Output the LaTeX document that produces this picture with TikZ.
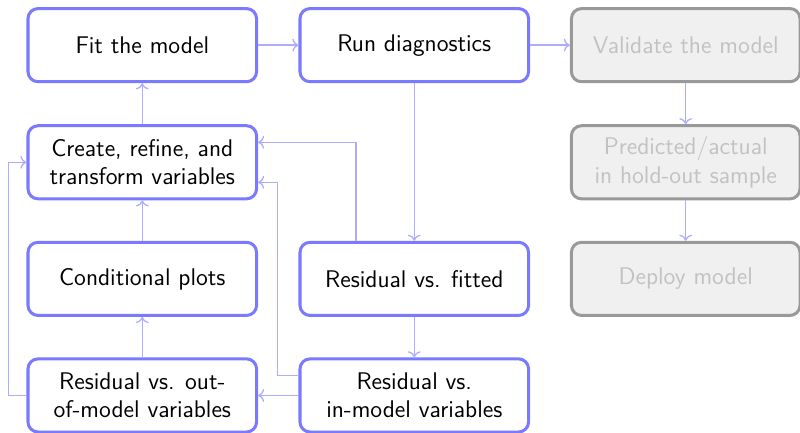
\documentclass[tikz,border=0pt]{standalone}
\usepackage{xcolor}
\usepackage{tikz}
\usetikzlibrary{arrows.meta,positioning}

\begin{document}
\begin{tikzpicture}[
  font=\sffamily\fontsize{12}{14}\selectfont,
  box/.style={draw, rounded corners=5pt, align=center, line width=1.5pt, minimum width=4cm, minimum height=1.28cm},
  act/.style={box, fill=white, draw=blue!52, text=black},
  later/.style={box, fill=black!6, draw=black!40, text=black!24},
  ar/.style={->, line width=0.65pt, draw=blue!32}
]
  \useasboundingbox (0,0) rectangle (14,-7.56);
  \node[act] (fit) at (2.49,-0.79) {Fit the model};
  \node[act] (run) at (7.25,-0.79) {Run diagnostics};
  \node[later] (valid) at (12.0,-0.79) {Validate the model};
  \node[act] (create) at (2.49,-2.84) {Create, refine, and\\ transform variables};
  \node[later] (pred) at (12.0,-2.84) {Predicted/actual\\ in hold-out sample};
  \node[act] (cond) at (2.49,-4.88) {Conditional plots};
  \node[act] (resfit) at (7.25,-4.88) {Residual vs. fitted};
  \node[later] (deploy) at (12.0,-4.88) {Deploy model};
  \node[act] (resout) at (2.49,-6.92) {Residual vs. out-\\ of-model variables};
  \node[act] (resin) at (7.25,-6.92) {Residual vs.\\ in-model variables};

  \draw[ar] (fit) -- (run);
  \draw[ar] (run) -- (valid);
  \draw[ar] (valid) -- (pred);
  \draw[ar] (pred) -- (deploy);
  \draw[ar] (run) -- (resfit);
  \draw[ar] (resfit) -- (resin);
  \draw[ar] (resin) -- (resout);
  \draw[ar] (resout) -- (cond);
  \draw[ar] (cond) -- (create);
  \draw[ar] (create) -- (fit);
  \draw[ar] ([xshift=-1.02cm]resfit.north) |- ([yshift=0.35cm]create.east);
  \draw[ar] ([yshift=0.35cm]resin.west) -- ++(-0.37,0) |- ([yshift=-0.35cm]create.east);
  \draw[ar] (resout.west) -- ++(-0.32,0) |- (create.west);
\end{tikzpicture}
\end{document}
